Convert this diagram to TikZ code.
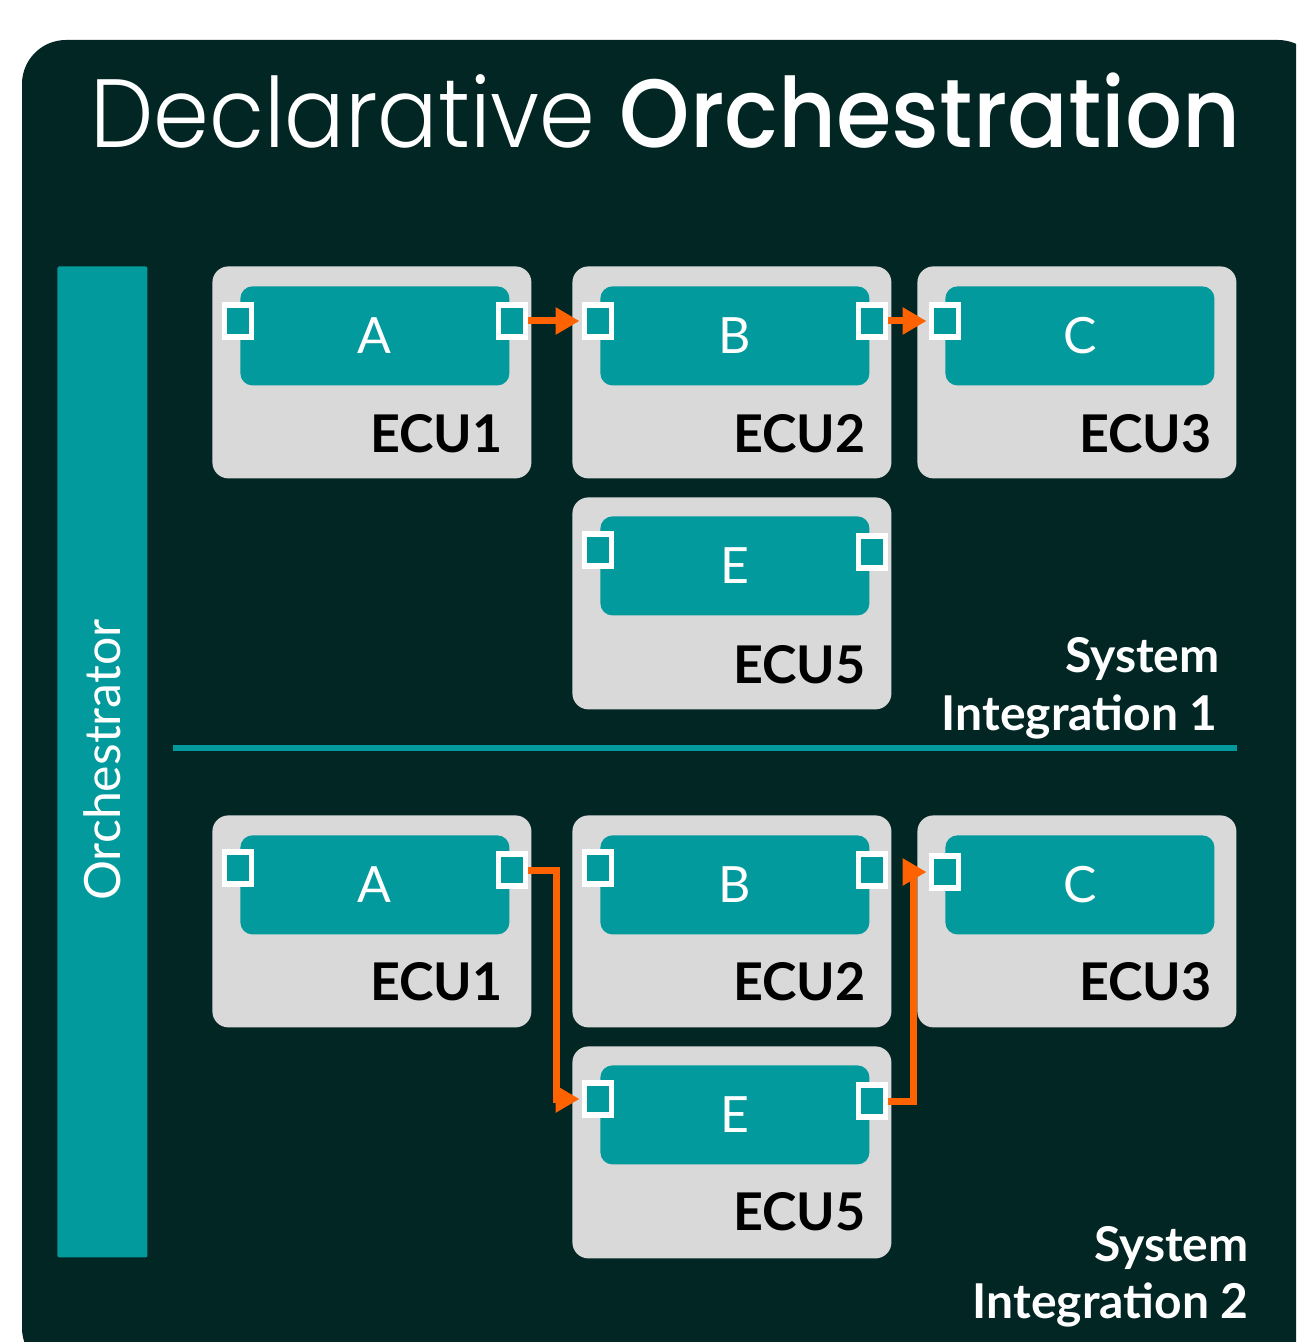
\documentclass[tikz,border=0pt]{standalone}
\usepackage{fontspec}
\usepackage{graphicx}
\setmainfont{Lato}
\newfontfamily\titlefont{Poppins}[UprightFont=* Light, BoldFont=* Medium]
\usetikzlibrary{arrows.meta}
\definecolor{bgdark}{HTML}{022623}
\definecolor{ecuteal}{HTML}{029A9C}
\definecolor{ecugray}{HTML}{D9D9D9}
\definecolor{floworange}{HTML}{FF6200}
\tikzset{
  ecubox/.style={fill=ecugray, rounded corners=8pt, anchor=north west, inner sep=0pt,
    minimum width=159.5pt, minimum height=106pt},
  appbox/.style={fill=ecuteal, rounded corners=6pt, anchor=north west, inner sep=0pt,
    minimum width=134.5pt, minimum height=49.5pt, text=white, font=\fontsize{25}{30}\selectfont},
  port/.style={draw=white, line width=2.6pt, fill=ecuteal, inner sep=0pt,
    minimum width=13.5pt, minimum height=16pt},
  eculabel/.style={anchor=base east, inner sep=0pt, font=\bfseries\fontsize{26}{30}\selectfont},
  silabel/.style={anchor=base east, inner sep=0pt, text=white, font=\bfseries\fontsize{24}{30}\selectfont},
  flow/.style={draw=floworange, line width=3.5pt, -{Triangle[length=12pt,width=13pt]}, shorten >=1.2pt},
}
\begin{document}
\begin{tikzpicture}[x=0.5pt,y=-0.5pt]
\useasboundingbox (0,0) rectangle (1296,1342);
\begin{scope}
\clip (0,0) rectangle (1296,1342);
\fill[bgdark, rounded corners=22pt] (22,40) rectangle (1322,1372);
\end{scope}

% title
\node[anchor=base west, inner sep=0pt, text=white, font=\fontsize{48.5}{56}\selectfont] (title) at (90,148)
  {\resizebox{575pt}{\height}{\titlefont Declarative \textbf{Orchestration}}};

% orchestrator bar
\node[fill=ecuteal, anchor=north west, inner sep=0pt, minimum width=45pt, minimum height=495.5pt, rounded corners=1pt] (orchbar) at (57,266) {};
\node[rotate=90, text=white, inner sep=0pt, font=\fontsize{25}{30}\selectfont] (orch) at (102,760) {Orchestrator};

% separator
\coordinate (sepL) at (173,748);
\coordinate (sepR) at (1237,748);
\draw[ecuteal, line width=3pt] (sepL) -- (sepR);

% ===== System Integration 1 =====
\node[ecubox] (ecuA1) at (212,266) {};
\node[ecubox] (ecuB1) at (572,266) {};
\node[ecubox] (ecuC1) at (917,266) {};
\node[ecubox] (ecuE1) at (572,497) {};
\node[appbox] (appA1) at (240,286) {A};
\node[appbox] (appB1) at (600,286) {B};
\node[appbox] (appC1) at (945,286) {C};
\node[appbox] (appE1) at (600,516) {E};
\node[eculabel] (lA1) at (503,452) {ECU1};
\node[eculabel] (lB1) at (866,452) {ECU2};
\node[eculabel] (lC1) at (1212,452) {ECU3};
\node[eculabel] (lE1) at (866,683) {ECU5};
\node[port] (pA1l) at (238,321) {};
\node[port] (pA1r) at (512,321) {};
\node[port] (pB1l) at (598,321) {};
\node[port] (pB1r) at (872,321) {};
\node[port] (pC1l) at (945,321) {};
\node[port] (pE1l) at (598,550) {};
\node[port] (pE1r) at (872,552) {};
\draw[flow] (pA1r.east) -- (pB1l.west);
\draw[flow] (pB1r.east) -- (pC1l.west);
\node[silabel] (si1a) at (1220,672) {System};
\node[silabel] (si1b) at (1218,730) {Integration 1};

% ===== System Integration 2 =====
\node[ecubox] (ecuA2) at (212,815) {};
\node[ecubox] (ecuB2) at (572,815) {};
\node[ecubox] (ecuC2) at (917,815) {};
\node[ecubox] (ecuE2) at (572,1046) {};
\node[appbox] (appA2) at (240,835) {A};
\node[appbox] (appB2) at (600,835) {B};
\node[appbox] (appC2) at (945,835) {C};
\node[appbox] (appE2) at (600,1065) {E};
\node[eculabel] (lA2) at (503,1000) {ECU1};
\node[eculabel] (lB2) at (866,1000) {ECU2};
\node[eculabel] (lC2) at (1212,1000) {ECU3};
\node[eculabel] (lE2) at (866,1230) {ECU5};
\node[port] (pA2l) at (238,868) {};
\node[port] (pA2r) at (512,870) {};
\node[port] (pB2l) at (598,868) {};
\node[port] (pB2r) at (872,870) {};
\node[port] (pC2l) at (945,872) {};
\node[port] (pE2l) at (598,1099) {};
\node[port] (pE2r) at (872,1101) {};
\draw[flow] (pA2r.east) -- ++(28,0) |- (pE2l.west);
\draw[flow] (pE2r.east) -- ++(25,0) |- (pC2l.west);
\node[silabel] (si2a) at (1249,1261) {System};
\node[silabel] (si2b) at (1249,1318) {Integration 2};
\end{tikzpicture}
\end{document}
